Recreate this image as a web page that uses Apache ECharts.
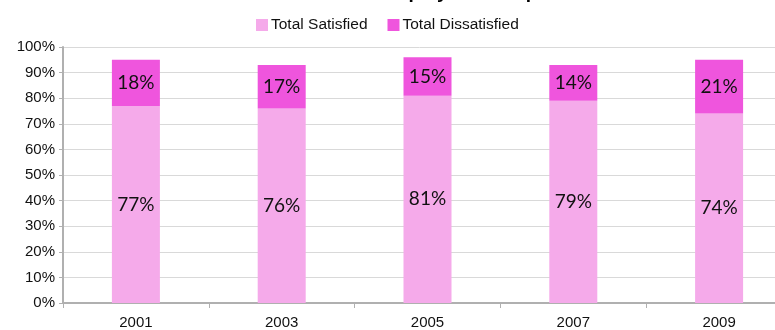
<!DOCTYPE html>
<html>
<head>
<meta charset="utf-8">
<script src="https://cdn.jsdelivr.net/npm/echarts@6/dist/echarts.min.js"></script>
<style>
  html, body { margin: 0; padding: 0; background: #fff; }
  #chart { width: 775px; height: 330px; }
</style>
</head>
<body>
<div id="chart"></div>
<script>
// Survey years and stacked satisfaction shares (percent)
const years = ['2001', '2003', '2005', '2007', '2009'];
const satisfied = [77, 76, 81, 79, 74];
const dissatisfied = [18, 17, 15, 14, 21];
const yTicks = [0, 10, 20, 30, 40, 50, 60, 70, 80, 90, 100];

const chart = echarts.init(document.getElementById('chart'));

const sansFont = 'Liberation Sans, Arial, sans-serif';
const labelStyle = {
  show: true,
  position: 'inside',
  formatter: p => p.value + '%',
  color: '#111',
  fontFamily: 'Lato, "Open Sans", sans-serif',
  fontSize: 19
};

chart.setOption({
  animation: false,
  // title sits mostly above the top edge of the canvas
  title: {
    text: 'Employee Perception',
    left: 374,
    top: -22,
    textStyle: { fontFamily: sansFont, fontWeight: 'bold', fontSize: 19, color: '#000' }
  },
  legend: {
    top: 12,
    left: 251,
    itemWidth: 12,
    itemHeight: 12,
    itemGap: 20,
    icon: 'rect',
    textStyle: { fontFamily: sansFont, fontSize: 15.5, color: '#111', padding: [0, 0, 0, -2] },
    data: ['Total Satisfied', 'Total Dissatisfied']
  },
  // plot area runs a little past the right edge of the canvas
  grid: { left: 63, width: 729, top: 47, bottom: 27, containLabel: false, outerBoundsMode: 'none' },
  xAxis: {
    type: 'category',
    data: years,
    axisLine: { lineStyle: { color: '#b0b0b0', width: 2 } },
    axisTick: { show: true, length: 5, lineStyle: { color: '#b0b0b0' } },
    axisLabel: { color: '#111', fontFamily: sansFont, fontSize: 15, margin: 12 }
  },
  yAxis: {
    type: 'value',
    min: yTicks[0],
    max: yTicks[yTicks.length - 1],
    interval: 10,
    axisLine: { show: true, lineStyle: { color: '#b0b0b0', width: 2 } },
    axisTick: { show: true, length: 4, lineStyle: { color: '#b0b0b0' } },
    splitLine: { show: true, lineStyle: { color: '#d9d9d9', width: 1 } },
    axisLabel: { formatter: v => v + '%', color: '#111', fontFamily: sansFont, fontSize: 15, margin: 8 }
  },
  series: [
    {
      name: 'Total Satisfied',
      type: 'bar',
      stack: 'total',
      barWidth: 48,
      data: satisfied,
      itemStyle: { color: '#F5AAEA' },
      label: labelStyle
    },
    {
      name: 'Total Dissatisfied',
      type: 'bar',
      stack: 'total',
      barWidth: 48,
      data: dissatisfied,
      itemStyle: { color: '#EF55DD' },
      label: labelStyle
    }
  ]
});
</script>
</body>
</html>
